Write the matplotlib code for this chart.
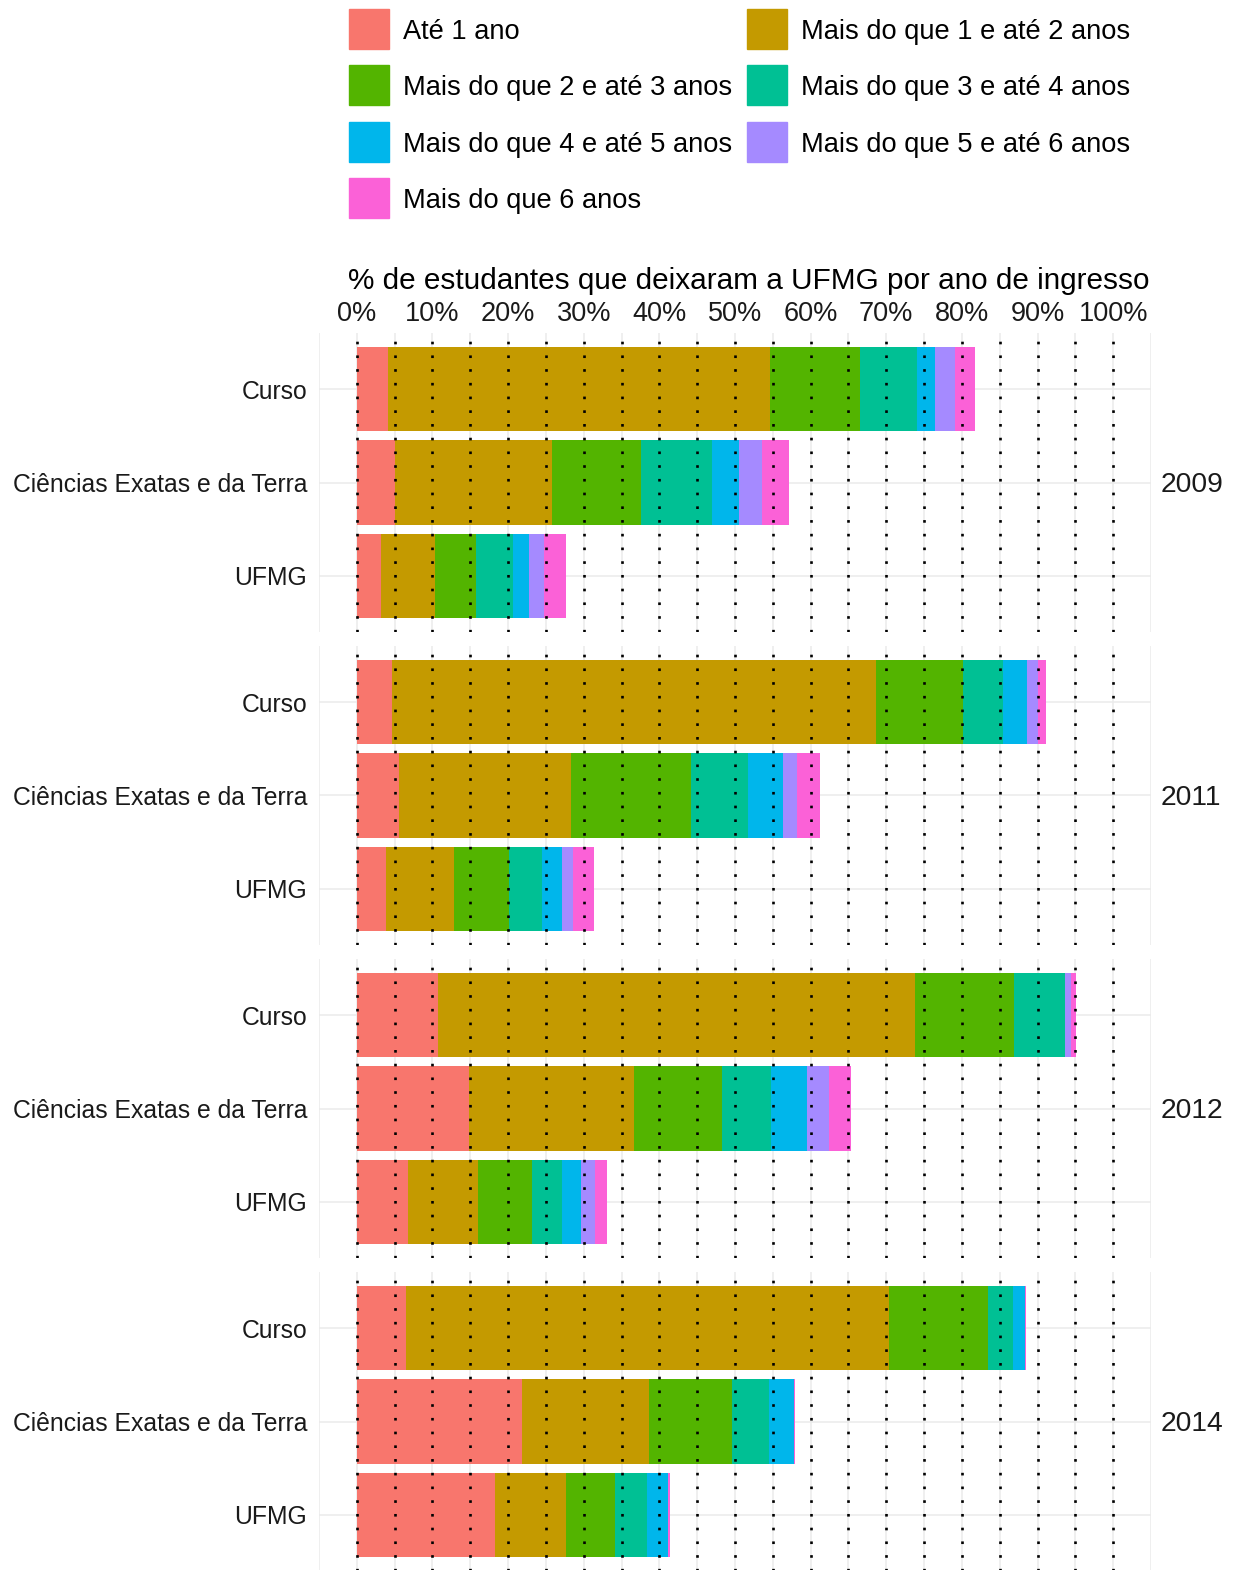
import matplotlib.pyplot as plt
from matplotlib.patches import Rectangle

plt.rcParams['font.family'] = ['Liberation Sans', 'DejaVu Sans']

# faixas de tempo até a saída
faixas = ["Até 1 ano", "Mais do que 1 e até 2 anos", "Mais do que 2 e até 3 anos",
          "Mais do que 3 e até 4 anos", "Mais do que 4 e até 5 anos",
          "Mais do que 5 e até 6 anos", "Mais do que 6 anos"]
cores = ["#F8766D", "#C49A00", "#53B400", "#00C094", "#00B6EB", "#A58AFF", "#FB61D7"]

grupos = ["Curso", "Ciências Exatas e da Terra", "UFMG"]
anos = ["2009", "2011", "2012", "2014"]

# % de estudantes por faixa (ordem: Curso, CET, UFMG)
v2009 = [[4.1, 50.5, 11.9, 7.5, 2.5, 2.6, 2.6],
         [5.1, 20.7, 11.8, 9.4, 3.5, 3.1, 3.6],
         [3.2, 7.2, 5.4, 4.8, 2.2, 2.0, 2.8]]
v2011 = [[4.7, 63.9, 11.6, 5.2, 3.2, 1.4, 1.1],
         [5.6, 22.7, 15.9, 7.5, 4.6, 1.9, 3.1],
         [3.9, 8.9, 7.3, 4.4, 2.6, 1.5, 2.8]]
v2012 = [[10.7, 63.1, 13.1, 6.7, 0.0, 0.8, 0.7],
         [14.8, 21.9, 11.6, 6.5, 4.7, 2.9, 2.9],
         [6.8, 9.2, 7.1, 4.0, 2.6, 1.8, 1.6]]
v2014 = [[6.5, 63.8, 13.2, 3.2, 1.6, 0.0, 0.2],
         [21.9, 16.7, 11.0, 4.9, 3.3, 0.0, 0.15],
         [18.3, 9.3, 6.5, 4.2, 2.9, 0.0, 0.15]]
valores = [v2009, v2011, v2012, v2014]

W, H = 1236, 1570
fig = plt.figure(figsize=(W / 100, H / 100), dpi=100)


def fx(px):
    return px / W


def fy(py):
    return 1 - py / H


# painéis
left, right = 319, 1151
tops = [333, 646, 959, 1272]
alt = 299
for k, ano in enumerate(anos):
    ax = fig.add_axes([fx(left), fy(tops[k] + alt), fx(right - left), alt / H])
    dados = valores[k]
    for i in range(len(faixas)):
        esq = [sum(linha[:i]) for linha in dados]
        larg = [linha[i] for linha in dados]
        ax.barh(range(len(grupos)), larg, left=esq, height=0.9, color=cores[i],
                zorder=2, linewidth=0)
    for x in range(-5, 110, 5):
        ax.axvline(x, color="#EBEBEB", lw=1.1, zorder=0)
    for y in range(len(grupos)):
        ax.axhline(y, color="#EBEBEB", lw=1.1, zorder=0)
    for x in range(0, 105, 5):
        ax.axvline(x, color="black", lw=1.9, linestyle=(0, (1, 4.2)), zorder=3)
    ax.set_xlim(-5, 105)
    ax.set_ylim(len(grupos) - 0.4, -0.6)
    ax.set_yticks(range(len(grupos)))
    ax.set_yticklabels(grupos, fontsize=17.85, color="#1A1A1A")
    ax.tick_params(axis="y", length=0, pad=8.5)
    for s in ax.spines.values():
        s.set_visible(False)
    ax.annotate(ano, xy=(1, 0.5), xycoords="axes fraction", xytext=(7, -2),
                textcoords="offset points", ha="left", va="center",
                fontsize=20.3, color="#1A1A1A")
    if k == 0:
        ax.xaxis.tick_top()
        ax.set_xticks(range(0, 110, 10))
        ax.set_xticklabels([f"{t}%" for t in range(0, 110, 10)], fontsize=19.5, color="#1A1A1A")
        ax.tick_params(axis="x", length=0, pad=4)
    else:
        ax.set_xticks([])

fig.text(fx(749), fy(281), "% de estudantes que deixaram a UFMG por ano de ingresso",
         ha="center", va="center", fontsize=21.4, color="black")

# legenda (2 colunas, preenchida por linha)
for i, (rot, cor) in enumerate(zip(faixas, cores)):
    lin, col = i // 2, i % 2
    x0 = 349 + col * 398
    y0 = 9 + lin * 56.3
    fig.patches.append(Rectangle((fx(x0), fy(y0 + 40)), 40 / W, 40 / H,
                                 transform=fig.transFigure, color=cor))
    fig.text(fx(x0 + 54), fy(y0 + 23), rot, ha="left", va="center",
             fontsize=19.6, color="black")

fig.savefig("out.png", dpi=100)
